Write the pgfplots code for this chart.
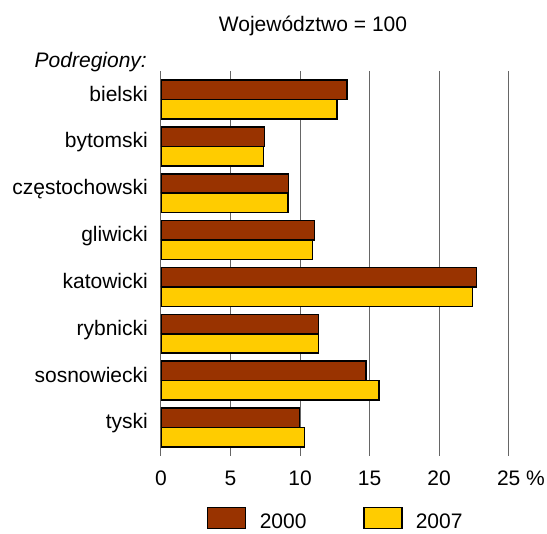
\documentclass[border=0pt]{standalone}
\usepackage{fontspec}
\setmainfont{Liberation Sans}
\usepackage{pgfplots}
\pgfplotsset{compat=1.18}
\definecolor{cbrown}{HTML}{993300}
\definecolor{cyellow}{HTML}{FFCC00}
\begin{document}
\fontsize{21pt}{25pt}\selectfont
\begin{tikzpicture}
\useasboundingbox (0,0) rectangle (547pt,534pt);
\begin{axis}[
  at={(161pt,78pt)}, anchor=south west,
  scale only axis, width=347.7pt, height=385pt,
  xbar, bar width=0.415,
  y dir=reverse,
  xmin=0, xmax=25, ymin=-0.61, ymax=7.61,
  xtick={0,5,10,15,20,25},
  xticklabels={0,5,10,15,20,{25\rlap{ \%}}},
  ytick={0,1,2,3,4,5,6,7},
  yticklabels={bielski,bytomski,częstochowski,gliwicki,{katowicki\hspace{5pt}},rybnicki,sosnowiecki,tyski},
  axis line style={draw=none},
  major tick length=0pt,
  xmajorgrids,
  grid style={gray!80!black, line width=1pt},
  ticklabel style={font=\fontsize{21pt}{25pt}\selectfont},
  yticklabel style={inner sep=0pt, anchor=base east, xshift=-13pt, yshift=-1.5pt},
  xticklabel style={inner sep=0pt, anchor=base, yshift=-29.7pt},
  /pgf/number format/assume math mode=true,
  legend columns=2,
  legend style={at={(0.1323,-0.196)}, anchor=south west, draw=none, fill=none,
    inner sep=0pt, outer sep=0pt, nodes={inner sep=0pt},
    font=\fontsize{21pt}{25pt}\selectfont,
    /tikz/every odd column/.append style={column sep=13.3pt},
    /tikz/every even column/.append style={column sep=56.5pt}},
  legend image code/.code={\draw[#1, line width=1.5pt] (0pt,-6pt) rectangle (38pt,15.3pt);},
]
\addplot[fill=cbrown, draw=black, line width=1.5pt, bar shift=-0.2075] coordinates {
  (13.36,0) (7.43,1) (9.16,2) (11.03,3) (22.69,4) (11.32,5) (14.75,6) (9.95,7)};
\addlegendentry{2000}
\addplot[fill=cyellow, draw=black, line width=1.5pt, bar shift=0.2075] coordinates {
  (12.64,0) (7.36,1) (9.14,2) (10.89,3) (22.40,4) (11.32,5) (15.66,6) (10.31,7)};
\addlegendentry{2007}
\end{axis}
\node[anchor=base, inner sep=0pt] at (313pt,502pt) {Województwo = 100};
\node[anchor=base east, inner sep=0pt, font=\itshape] at (147pt,466pt) {Podregiony:};
\end{tikzpicture}
\end{document}
